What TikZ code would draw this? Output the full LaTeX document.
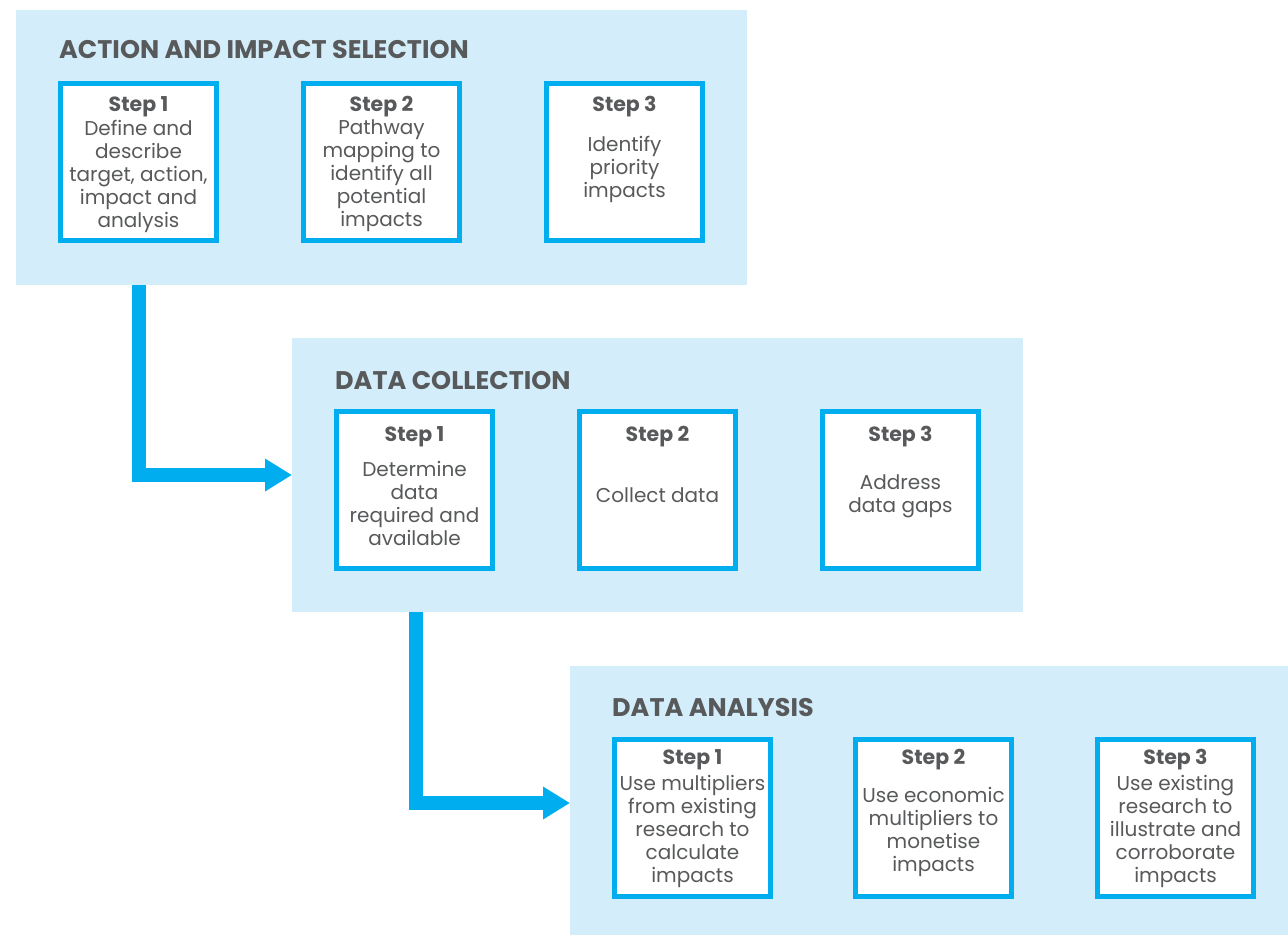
\documentclass[tikz,border=0pt]{standalone}
\usepackage{fontspec}
\setmainfont{Poppins}
\usetikzlibrary{arrows.meta}
\definecolor{panelbg}{HTML}{D3EEFA}
\definecolor{cyanb}{HTML}{00AEEF}
\definecolor{txt}{HTML}{58595B}
\tikzset{
  panel/.style={rectangle, fill=panelbg, draw=none, inner sep=0pt, outer sep=0pt, anchor=north west},
  stepbox/.style={rectangle, fill=white, draw=cyanb, line width=5pt, minimum width=156pt, minimum height=157pt, inner sep=0pt, outer sep=0pt, anchor=north west},
  ptitle/.style={anchor=base west, inner sep=0pt, text=txt, font=\fontsize{25.5}{30}\selectfont\bfseries},
  steplbl/.style={anchor=base, inner sep=0pt, text=txt, font=\fontsize{20.5}{23}\selectfont\bfseries},
  body/.style={align=center, inner sep=0pt, text=txt, font=\fontsize{20}{23}\selectfont},
  flow/.style={draw=cyanb, line width=14pt, line join=miter, -{Triangle[length=27pt,width=31pt]}}
}
\begin{document}
\begin{tikzpicture}[x=1pt,y=-1pt]
\useasboundingbox (0,0) rectangle (1288,935);
% panels
\node[panel, minimum width=731pt, minimum height=275pt] (p1) at (16,10) {};
\node[panel, minimum width=731pt, minimum height=274pt] (p2) at (292,338) {};
\node[panel, minimum width=718pt, minimum height=269pt] (p3) at (570,666) {};
% titles
\node[ptitle] (t1) at (59,58) {ACTION AND IMPACT SELECTION};
\node[ptitle] (t2) at (335,389) {DATA COLLECTION};
\node[ptitle] (t3) at (612,716) {DATA ANALYSIS};
% panel 1 boxes
\node[stepbox] (a1) at (60.5,83.5) {};
\node[stepbox] (a2) at (303.5,83.5) {};
\node[stepbox] (a3) at (546.5,83.5) {};
\node[steplbl] (a1s) at (138.5,111) {Step 1};
\node[steplbl] (a2s) at (381.5,111) {Step 2};
\node[steplbl] (a3s) at (624.5,111) {Step 3};
\node[body] (a1b) at (138.5,176) {Define and\\describe\\target, action,\\impact and\\analysis};
\node[body] (a2b) at (381.5,176) {Pathway\\mapping to\\identify all\\potential\\impacts};
\node[body] (a3b) at (624.5,169) {Identify\\priority\\impacts};
% panel 2 boxes
\node[stepbox] (b1) at (336.5,411.5) {};
\node[stepbox] (b2) at (579.5,411.5) {};
\node[stepbox] (b3) at (822.5,411.5) {};
\node[steplbl] (b1s) at (414.5,441) {Step 1};
\node[steplbl] (b2s) at (657.5,441) {Step 2};
\node[steplbl] (b3s) at (900.5,441) {Step 3};
\node[body] (b1b) at (414.5,503) {Determine\\data\\required and\\available};
\node[body] (b2b) at (657.5,495) {Collect data};
\node[body] (b3b) at (900.5,496) {Address\\data gaps};
% panel 3 boxes
\node[stepbox] (c1) at (614.5,739.5) {};
\node[stepbox] (c2) at (855.5,739.5) {};
\node[stepbox] (c3) at (1097.5,739.5) {};
\node[steplbl] (c1s) at (692.5,764) {Step 1};
\node[steplbl] (c2s) at (933.5,764) {Step 2};
\node[steplbl] (c3s) at (1175.5,764) {Step 3};
\node[body] (c1b) at (692.5,831) {Use multipliers\\from existing\\research to\\calculate\\impacts};
\node[body] (c2b) at (933.5,832) {Use economic\\multipliers to\\monetise\\impacts};
\node[body] (c3b) at (1175.5,831) {Use existing\\research to\\illustrate and\\corroborate\\impacts};
% connectors
\coordinate (k1) at (139,475);
\coordinate (k2) at (415.5,803);
\draw[flow] (k1 |- p1.south) |- (k1 -| p2.west);
\draw[flow] (k2 |- p2.south) |- (k2 -| p3.west);
\end{tikzpicture}
\end{document}
